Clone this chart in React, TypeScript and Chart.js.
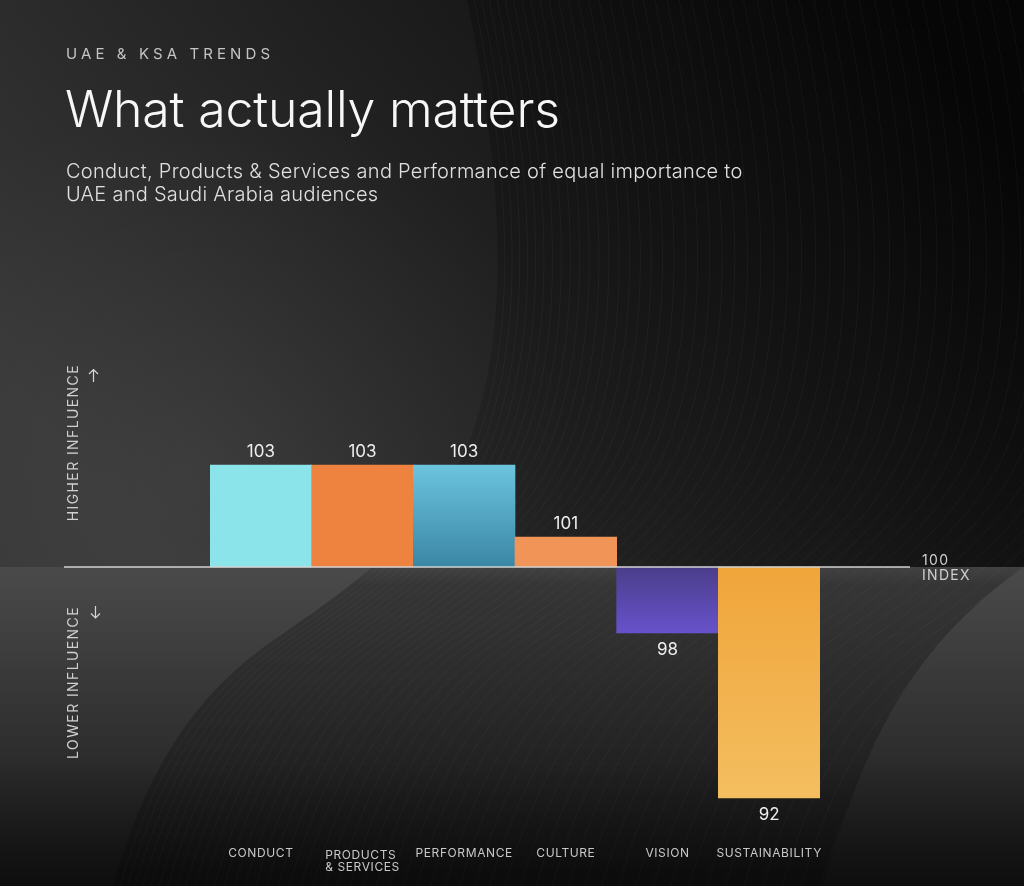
import React, { useEffect, useRef } from "react";
import { Chart, registerables } from "chart.js";

Chart.register(...registerables);

// ---- data ----
const categories: string[][] = [
  ["CONDUCT"],
  ["PRODUCTS", "& SERVICES"],
  ["PERFORMANCE"],
  ["CULTURE"],
  ["VISION"],
  ["SUSTAINABILITY"],
];
const indexValues = [103.4, 103.4, 103.4, 101.0, 97.8, 92.3];
const baselineIndex = 100;
const axisMin = 90;
const axisMax = 108;
const sideLabels = ["HIGHER INFLUENCE", "LOWER INFLUENCE"];
const baselineLabel = ["100", "INDEX"];
const eyebrow = "UAE & KSA TRENDS";
const title = "What actually matters";
const subtitleLines = [
  "Conduct, Products & Services and Performance of equal importance to",
  "UAE and Saudi Arabia audiences",
];

// ---- styles ----
const topColors = ["#8ce4eb", "#ee823f", "#6bc4de", "#f09458", "#4a3e8a", "#f0a53a"];
const bottomColors = ["#8ce4eb", "#ee823f", "#3a86a5", "#f09458", "#6852cb", "#f4be60"];
const FONT = "Inter, 'Noto Sans', 'DejaVu Sans', sans-serif";

function leftEdge(ctx: CanvasRenderingContext2D, dx: number) {
  ctx.moveTo(465 + dx, -10);
  ctx.bezierCurveTo(505 + dx, 180, 510 + dx, 330, 470 + dx, 440);
  ctx.bezierCurveTo(430 + dx, 540, 330 + dx, 600, 260 + dx, 650);
  ctx.bezierCurveTo(180 + dx, 710, 140 + dx, 790, 110 + dx, 896);
}

const bgPlugin = {
  id: "bg",
  beforeDraw(chart: any) {
    const { ctx, width, height } = chart;
    const by = chart.scales.y.getPixelForValue(baselineIndex);
    ctx.save();
    // upper region
    let g = ctx.createLinearGradient(900, 0, 150, by);
    g.addColorStop(0, "#080808");
    g.addColorStop(1, "#373737");
    ctx.fillStyle = g;
    ctx.fillRect(0, 0, width, by);
    const rad = ctx.createRadialGradient(200, 470, 0, 200, 470, 380);
    rad.addColorStop(0, "rgba(255,255,255,0.05)");
    rad.addColorStop(1, "rgba(255,255,255,0)");
    ctx.fillStyle = rad;
    ctx.fillRect(0, 0, width, by);
    // lower region
    g = ctx.createLinearGradient(0, by, 0, height);
    g.addColorStop(0, "#4a4a4a");
    g.addColorStop(0.55, "#2f2f2f");
    g.addColorStop(1, "#151515");
    ctx.fillStyle = g;
    ctx.fillRect(0, by, width, height - by);
    // ribbon
    ctx.beginPath();
    leftEdge(ctx, 0);
    ctx.lineTo(820, 896);
    ctx.bezierCurveTo(860, 760, 900, 650, 1034, 560);
    ctx.lineTo(1034, -10);
    ctx.closePath();
    ctx.save();
    ctx.clip();
    const rg = ctx.createLinearGradient(0, 0, 0, height);
    rg.addColorStop(0, "rgba(0,0,0,0.25)");
    rg.addColorStop(0.64, "rgba(0,0,0,0.12)");
    rg.addColorStop(0.66, "rgba(0,0,0,0.25)");
    rg.addColorStop(1, "rgba(0,0,0,0.2)");
    ctx.fillStyle = rg;
    ctx.fillRect(0, 0, width, height);
    ctx.strokeStyle = "rgba(255,255,255,0.04)";
    ctx.lineWidth = 1;
    for (let k = 1; k < 60; k++) {
      const dx = 7 * k + 0.12 * k * k;
      ctx.beginPath();
      leftEdge(ctx, dx);
      ctx.stroke();
    }
    ctx.restore();
    // bottom darkening
    g = ctx.createLinearGradient(0, 760, 0, height);
    g.addColorStop(0, "rgba(0,0,0,0)");
    g.addColorStop(1, "rgba(0,0,0,0.35)");
    ctx.fillStyle = g;
    ctx.fillRect(0, 760, width, height - 760);
    ctx.restore();
  },
};

const overlayPlugin = {
  id: "overlay",
  afterDatasetsDraw(chart: any) {
    const { ctx, scales } = chart;
    const y = scales.y;
    const by = y.getPixelForValue(baselineIndex);
    ctx.save();
    // baseline
    ctx.strokeStyle = "#d2d2d2";
    ctx.lineWidth = 1.5;
    ctx.beginPath();
    ctx.moveTo(64, by);
    ctx.lineTo(910, by);
    ctx.stroke();

    // value labels
    const meta = chart.getDatasetMeta(0);
    ctx.font = `400 17px ${FONT}`;
    ctx.fillStyle = "#eeeeee";
    ctx.textAlign = "center";
    ctx.textBaseline = "alphabetic";
    meta.data.forEach((bar: any, i: number) => {
      const v = indexValues[i];
      const txt = String(Math.round(v));
      const py = v >= baselineIndex ? bar.y - 8 : bar.y + 21.5;
      ctx.fillText(txt, bar.x, py);
    });

    // category labels
    ctx.font = `400 12px ${FONT}`;
    (ctx as any).letterSpacing = "0.6px";
    ctx.fillStyle = "#c9c9c9";
    categories.forEach((lines, i) => {
      const cx = scales.x.getPixelForValue(i);
      if (lines.length === 1) {
        ctx.textAlign = "center";
        ctx.fillText(lines[0], cx, 857);
      } else {
        const w = Math.max(...lines.map((l) => ctx.measureText(l).width));
        ctx.textAlign = "left";
        lines.forEach((l, j) => ctx.fillText(l, cx - w / 2, 859 + j * 12));
      }
    });

    // side labels
    ctx.font = `400 14px ${FONT}`;
    (ctx as any).letterSpacing = "1.4px";
    ctx.fillStyle = "#cfcfcf";
    ctx.textAlign = "right";
    [[77.5, 364], [78, 606]].forEach((p, i) => {
      ctx.save();
      ctx.translate(p[0], p[1]);
      ctx.rotate(-Math.PI / 2);
      ctx.fillText(sideLabels[i], 0, 0);
      ctx.restore();
    });
    // arrows
    ctx.strokeStyle = "#d6d6d6";
    ctx.lineWidth = 1.2;
    ctx.beginPath();
    ctx.moveTo(93.5, 382);
    ctx.lineTo(93.5, 369.5);
    ctx.moveTo(89, 374);
    ctx.lineTo(93.5, 369.5);
    ctx.lineTo(98, 374);
    ctx.moveTo(95.5, 606);
    ctx.lineTo(95.5, 618);
    ctx.moveTo(91, 613.5);
    ctx.lineTo(95.5, 618);
    ctx.lineTo(100, 613.5);
    ctx.stroke();

    // 100 INDEX
    ctx.textAlign = "left";
    ctx.font = `400 14px ${FONT}`;
    (ctx as any).letterSpacing = "1.3px";
    ctx.fillStyle = "#d0d0d0";
    ctx.fillText(baselineLabel[0], 922, 565);
    ctx.fillText(baselineLabel[1], 922, 580);
    ctx.restore();
  },
};

export default function App() {
  const canvasRef = useRef<HTMLCanvasElement | null>(null);

  useEffect(() => {
    if (!canvasRef.current) return;
    const chart = new Chart(canvasRef.current, {
      type: "bar",
      data: {
        labels: categories.map((c) => c.join(" ")),
        datasets: [
          {
            data: indexValues,
            base: baselineIndex,
            barPercentage: 1,
            categoryPercentage: 1,
            borderWidth: 0,
            backgroundColor: (c: any) => {
              const i = c.dataIndex ?? 0;
              const chart = c.chart;
              if (!chart.chartArea || !chart.scales.y) return topColors[i];
              const y1 = chart.scales.y.getPixelForValue(indexValues[i]);
              const y0 = chart.scales.y.getPixelForValue(baselineIndex);
              const g = chart.ctx.createLinearGradient(0, Math.min(y0, y1), 0, Math.max(y0, y1));
              g.addColorStop(0, topColors[i]);
              g.addColorStop(1, bottomColors[i]);
              return g;
            },
          } as any,
        ],
      },
      options: {
        animation: false,
        responsive: false,
        layout: { padding: { left: 210, right: 204, top: 327, bottom: 19 } },
        scales: {
          x: { display: false, offset: true, grid: { display: false } },
          y: { display: false, min: axisMin, max: axisMax, grid: { display: false } },
        },
        plugins: {
          legend: { display: false },
          tooltip: { enabled: false },
        },
      },
      plugins: [bgPlugin, overlayPlugin],
    });
    return () => chart.destroy();
  }, []);

  return (
    <div
      style={{
        position: "fixed",
        left: 0,
        top: 0,
        width: 1024,
        height: 886,
        background: "#1a1a1a",
        overflow: "hidden",
        fontFamily: FONT,
      }}
    >
      <canvas ref={canvasRef} width={1024} height={886} style={{ position: "absolute", left: 0, top: 0 }} />
      <div
        style={{
          position: "absolute",
          left: 66,
          top: 46.3,
          fontSize: 15,
          lineHeight: 1,
          letterSpacing: "4.1px",
          color: "#c4c4c4",
          whiteSpace: "nowrap",
        }}
      >
        {eyebrow}
      </div>
      <div
        style={{
          position: "absolute",
          left: 65,
          top: 84.3,
          fontSize: 50,
          fontWeight: 300,
          lineHeight: 1,
          letterSpacing: "-0.2px",
          color: "#f7f7f7",
          whiteSpace: "nowrap",
        }}
      >
        {title}
      </div>
      <div
        style={{
          position: "absolute",
          left: 66,
          top: 160.2,
          fontSize: 20,
          fontWeight: 300,
          lineHeight: "23px",
          letterSpacing: "0.27px",
          color: "#e0e0e0",
          whiteSpace: "nowrap",
        }}
      >
        {subtitleLines.map((l, i) => (
          <div key={i}>{l}</div>
        ))}
      </div>
    </div>
  );
}
